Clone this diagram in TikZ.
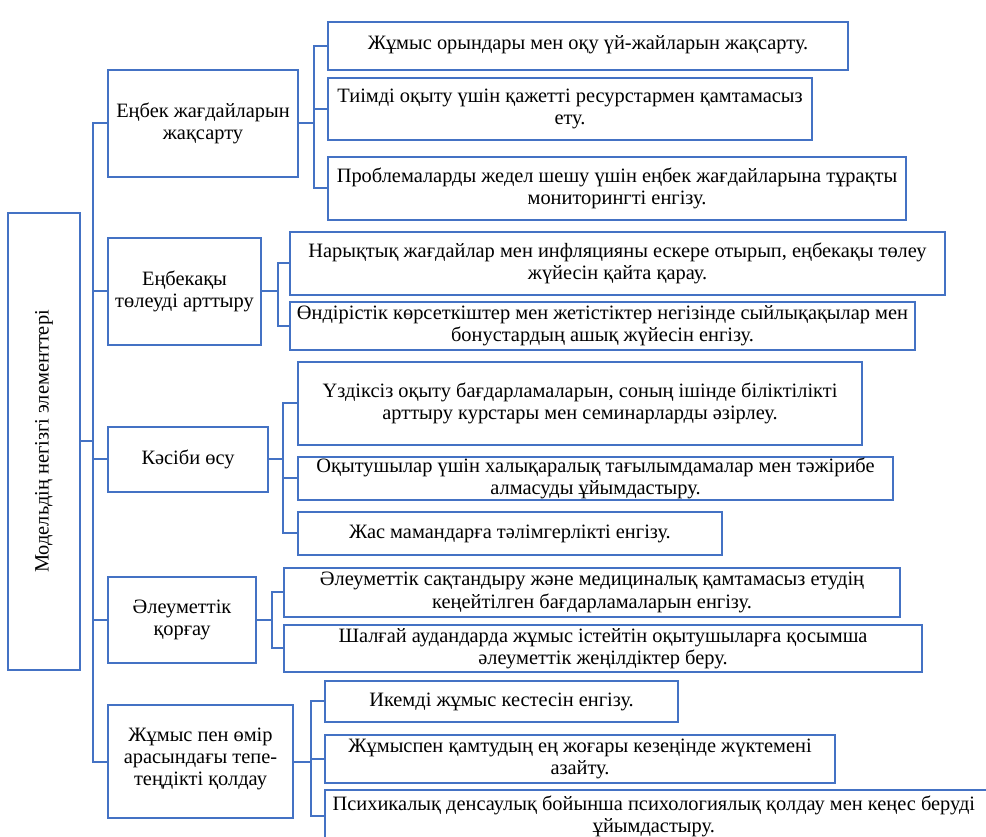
\documentclass[tikz,border=0pt]{standalone}
\usepackage{fontspec}
\setmainfont{Liberation Serif}
\usetikzlibrary{fit}
\definecolor{wordblue}{RGB}{68,114,196}
\tikzset{
  box/.style={draw=wordblue, line width=1.5pt, inner sep=0pt},
  txt/.style={align=center, inner sep=0pt, font=\fontsize{15.3}{16.6}\selectfont, text=black},
  link/.style={draw=wordblue, line width=1.5pt}
}
\begin{document}
\begin{tikzpicture}[x=0.75pt, y=-0.75pt]
\useasboundingbox (0,0) rectangle (986,837);
% root
\node[box, fit={(8,213) (80,670)}] (root) {};
\node[txt, rotate=90] (roottext) at (root.center) {Модельдің негізгі элементтері};
% categories
\node[box, fit={(108,70) (298,177)}] (k1) {};
\node[txt] (k1t) at (k1.center) {Еңбек жағдайларын\\жақсарту};
\node[box, fit={(108,238) (261,345)}] (k2) {};
\node[txt] (k2t) at (k2.center) {Еңбекақы\\төлеуді арттыру};
\node[box, fit={(108,427) (268,492)}] (k3) {};
\node[txt] (k3t) at (k3.center) {Кәсіби өсу};
\node[box, fit={(108,577) (256,663)}] (k4) {};
\node[txt] (k4t) at (k4.center) {Әлеуметтік\\қорғау};
\node[box, fit={(108,705) (293,818)}] (k5) {};
\node[txt] (k5t) at ([yshift=2pt]k5.center) {Жұмыс пен өмір\\арасындағы тепе-\\теңдікті қолдау};
% children
\node[box, fit={(328,22) (848,70)}] (c11) {};
\node[txt] (c11t) at ([yshift=1pt]c11.center) {Жұмыс орындары мен оқу үй-жайларын жақсарту.};
\node[box, fit={(328,78) (812,140)}] (c12) {};
\node[txt] (c12t) at (c12.center) {Тиімді оқыту үшін қажетті ресурстармен қамтамасыз\\ету.};
\node[box, fit={(328,157) (906,220)}] (c13) {};
\node[txt] (c13t) at (c13.center) {Проблемаларды жедел шешу үшін еңбек жағдайларына тұрақты\\мониторингті енгізу.};
\node[box, fit={(290,232) (945,295)}] (c21) {};
\node[txt] (c21t) at (c21.center) {Нарықтық жағдайлар мен инфляцияны ескере отырып, еңбекақы төлеу\\жүйесін қайта қарау.};
\node[box, fit={(290,302) (915,350)}] (c22) {};
\node[txt] (c22t) at (c22.center) {Өндірістік көрсеткіштер мен жетістіктер негізінде сыйлықақылар мен\\бонустардың ашық жүйесін енгізу.};
\node[box, fit={(298,362) (862,445)}] (c31) {};
\node[txt] (c31t) at (c31.center) {Үздіксіз оқыту бағдарламаларын, соның ішінде біліктілікті\\арттыру курстары мен семинарларды әзірлеу.};
\node[box, fit={(298,457) (893,500)}] (c32) {};
\node[txt] (c32t) at (c32.center) {Оқытушылар үшін халықаралық тағылымдамалар мен тәжірибе\\алмасуды ұйымдастыру.};
\node[box, fit={(298,512) (722,555)}] (c33) {};
\node[txt] (c33t) at (c33.center) {Жас мамандарға тәлімгерлікті енгізу.};
\node[box, fit={(284,568) (900,617)}] (c41) {};
\node[txt] (c41t) at (c41.center) {Әлеуметтік сақтандыру және медициналық қамтамасыз етудің\\кеңейтілген бағдарламаларын енгізу.};
\node[box, fit={(284,625) (922,672)}] (c42) {};
\node[txt] (c42t) at (c42.center) {Шалғай аудандарда жұмыс істейтін оқытушыларға қосымша\\әлеуметтік жеңілдіктер беру.};
\node[box, fit={(325,681) (678,722)}] (c51) {};
\node[txt] (c51t) at (c51.center) {Икемді жұмыс кестесін енгізу.};
\node[box, fit={(325,735) (835,783)}] (c52) {};
\node[txt] (c52t) at (c52.center) {Жұмыспен қамтудың ең жоғары кезеңінде жүктемені\\азайту.};
\node[box, fit={(325,790) (996,842)}] (c53) {};
\node[txt] (c53t) at ([xshift=-5pt]c53.center) {Психикалық денсаулық бойынша психологиялық қолдау мен кеңес беруді\\ұйымдастыру.};
% trunk
\draw[link] (k1.west) -- ++(-14,0) coordinate (trunktop) |- (k5.west);
\draw[link] (root.east) -- (root.east -| trunktop);
\draw[link] (k2.west) -- (k2.west -| trunktop);
\draw[link] (k3.west) -- (k3.west -| trunktop);
\draw[link] (k4.west) -- (k4.west -| trunktop);
% brackets
\draw[link] (k1.east) -- ++(15,0) coordinate (b1) |- (c11.west);
\draw[link] (b1) |- (c12.west);
\draw[link] (b1) |- (c13.west);
\draw[link] (k2.east) -- ++(16,0) coordinate (b2) |- (c21.west);
\draw[link] (b2) |- (c22.west);
\draw[link] (k3.east) -- ++(14,0) coordinate (b3) |- (c31.west);
\draw[link] (b3) |- (c32.west);
\draw[link] (b3) |- (c33.west);
\draw[link] (k4.east) -- ++(15,0) coordinate (b4) |- (c41.west);
\draw[link] (b4) |- (c42.west);
\draw[link] (k5.east) -- ++(17,0) coordinate (b5) |- (c51.west);
\draw[link] (b5) |- (c52.west);
\draw[link] (b5) |- (c53.west);
\end{tikzpicture}
\end{document}
